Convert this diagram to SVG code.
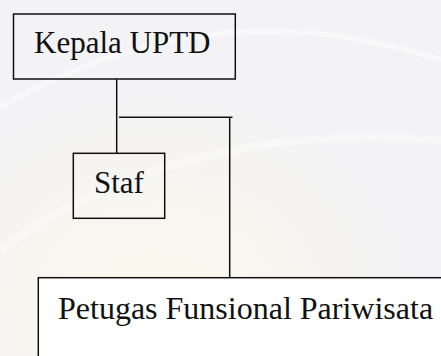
<svg xmlns="http://www.w3.org/2000/svg" width="441" height="356" viewBox="0 0 441 356">
  <defs>
    <radialGradient id="warm" cx="0.35" cy="0.85" r="0.6">
      <stop offset="0" stop-color="#fbf8ec"/>
      <stop offset="1" stop-color="#fbf8ec" stop-opacity="0"/>
    </radialGradient>
  </defs>
  <style>
    .box { fill: none; stroke: #111; stroke-width: 1.5; }
    .line { fill: none; stroke: #111; stroke-width: 1.5; }
    .label { font-family: "Liberation Serif", "Times New Roman", serif; font-size: 31px; fill: #111; }
  </style>
  <g id="background">
    <rect x="0" y="0" width="441" height="356" fill="#f3f3f5"/>
    <rect x="0" y="0" width="441" height="356" fill="url(#warm)"/>
    <path d="M -20 120 Q 200 -20 441 60" fill="none" stroke="#ffffff" stroke-width="6" opacity="0.4"/>
    <path d="M 0 250 Q 180 120 441 140" fill="none" stroke="#ffffff" stroke-width="8" opacity="0.35"/>
  </g>
  <g id="connectors">
    <line class="line" x1="116.7" y1="79" x2="116.7" y2="153.3"/>
    <line class="line" x1="119" y1="117.3" x2="232.5" y2="117.3"/>
    <line class="line" x1="229.7" y1="117.3" x2="229.7" y2="277.7"/>
  </g>
  <g id="kepala-uptd">
    <rect class="box" x="13.5" y="14" width="221.8" height="65"/>
    <text class="label" x="34" y="53">Kepala UPTD</text>
  </g>
  <g id="staf">
    <rect class="box" x="73.3" y="153.3" width="91.4" height="65"/>
    <text class="label" x="94" y="193">Staf</text>
  </g>
  <g id="petugas-funsional-pariwisata">
    <rect x="38.3" y="277.7" width="420" height="100" fill="#ffffff"/>
    <rect class="box" x="38.3" y="277.7" width="420" height="100"/>
    <text class="label" x="58" y="319" style="font-size:32px">Petugas Funsional Pariwisata</text>
  </g>
</svg>
